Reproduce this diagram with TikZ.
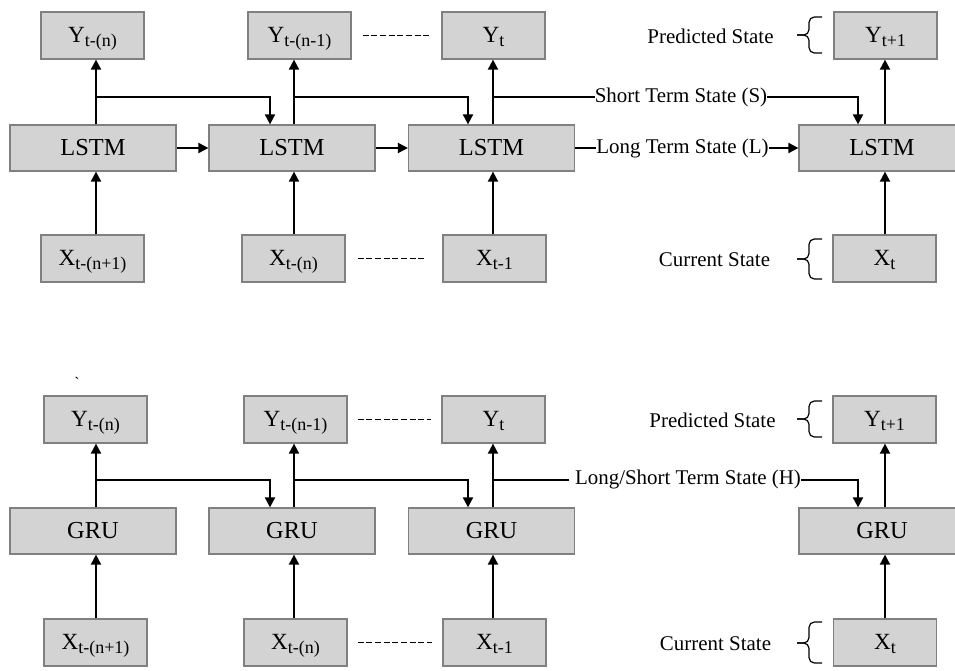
\documentclass[tikz,border=0pt]{standalone}
\usepackage{fontspec}
\setmainfont{Liberation Serif}
\usetikzlibrary{arrows.meta}
\definecolor{boxfill}{RGB}{211,211,211}
\definecolor{boxline}{RGB}{128,128,128}
\newcommand{\vsub}[2]{\raisebox{-5.4pt}[0pt][0pt]{{\fontsize{17.4}{18}\selectfont #1}\raisebox{-3pt}{\fontsize{13.5}{14}\selectfont #2}}}
\newcommand{\mybrace}[3]{%
  \draw[bracestyle] (822,#1) -- (809,#1) -- (809,#2) -- (797,#2);
  \draw[bracestyle] (797,#2) -- (809,#2) -- (809,#3) -- (822,#3);}
\begin{document}
\begin{tikzpicture}[x=0.75pt,y=-0.75pt,
  ybox/.style={draw=boxline,fill=boxfill,line width=0.9pt,minimum width=77.25pt,minimum height=35.25pt,inner sep=0pt},
  cell/.style={draw=boxline,fill=boxfill,line width=0.9pt,minimum width=124.5pt,minimum height=34.5pt,inner sep=0pt,font=\fontsize{18.3}{19}\selectfont},
  arr/.style={line width=1.4pt,-{Triangle[length=7.5pt,width=7.5pt]}},
  ln/.style={line width=1.4pt},
  lab/.style={font=\fontsize{15.7}{16}\selectfont,inner sep=0pt},
  dsh/.style={line width=0.8pt,dash pattern=on 4.5pt off 2pt},
  bracestyle/.style={line width=0.9pt,rounded corners=4pt}]
\useasboundingbox (0,0) rectangle (955,670);
\clip (0,0) rectangle (955,670);
% ================= LSTM =================
\node[ybox] (ya) at (92.5,35.5) {\vsub{Y}{t-(n)}};
\node[ybox] (yb) at (299.5,35.5) {\vsub{Y}{t-(n-1)}};
\node[ybox] (yc) at (493.5,35.5) {\vsub{Y}{t}};
\node[ybox] (yd) at (885.5,35.5) {\vsub{Y}{t+1}};
\node[cell] (la) at (93,148) {LSTM};
\node[cell] (lb) at (292,148) {LSTM};
\node[cell] (lc) at (491.5,148) {LSTM};
\node[cell] (ld) at (882,148) {LSTM};
\node[ybox] (xa) at (92.5,258.5) {\vsub{X}{t-(n+1)}};
\node[ybox] (xb) at (293.5,258.5) {\vsub{X}{t-(n)}};
\node[ybox] (xc) at (494.5,258.5) {\vsub{X}{t-1}};
\node[ybox] (xd) at (884.5,258.5) {\vsub{X}{t}};
\node[lab] (st) at (681,97) {Short Term State (S)};
\node[lab] (lt) at (682.5,148) {Long Term State (L)};
\node[lab] (ps) at (710.5,36) {Predicted State};
\node[lab] (cs) at (714.5,260) {Current State};
\coordinate (va) at (96,97);
\coordinate (vb) at (294,97);
\coordinate (vc) at (493,97);
\coordinate (vd) at (885,97);
\coordinate (da) at (270,97);
\coordinate (db) at (468,97);
\coordinate (dd) at (858,97);
\draw[arr] (la.north -| va) -- (ya.south -| va);
\draw[arr] (lb.north -| vb) -- (yb.south -| vb);
\draw[arr] (lc.north -| vc) -- (yc.south -| vc);
\draw[arr] (ld.north -| vd) -- (yd.south -| vd);
\draw[arr] (xa.north -| va) -- (la.south -| va);
\draw[arr] (xb.north -| vb) -- (lb.south -| vb);
\draw[arr] (xc.north -| vc) -- (lc.south -| vc);
\draw[arr] (xd.north -| vd) -- (ld.south -| vd);
\draw[arr] (va) -- (da) -- (lb.north -| da);
\draw[arr] (vb) -- (db) -- (lc.north -| db);
\draw[ln] (vc) -- (st.west);
\draw[arr] (st.east) -- (st.east -| dd) -- (ld.north -| dd);
\draw[arr] (la.east) -- (lb.west);
\draw[arr] (lb.east) -- (lc.west);
\draw[ln] (lc.east) -- (lt.west);
\draw[arr] (lt.east) -- (ld.west);
\draw[dsh,shorten <=8.25pt,shorten >=9pt] (yb.east) -- (yc.west);
\draw[dsh,shorten <=9pt,shorten >=13.5pt] (xb.east) -- (xc.west);
\mybrace{17}{35}{53}
\mybrace{239}{259}{279}
% ================= GRU =================
\node[font=\fontsize{12}{12}\selectfont,inner sep=0pt] (tick) at (77,383) {\textasciigrave};
\node[ybox] (gya) at (95.5,419.5) {\vsub{Y}{t-(n)}};
\node[ybox] (gyb) at (295.5,419.5) {\vsub{Y}{t-(n-1)}};
\node[ybox] (gyc) at (493.5,419.5) {\vsub{Y}{t}};
\node[ybox] (gyd) at (884.5,419.5) {\vsub{Y}{t+1}};
\node[cell] (ga) at (93,531) {GRU};
\node[cell] (gb) at (292,531) {GRU};
\node[cell] (gc) at (491.5,531) {GRU};
\node[cell] (gd) at (882,531) {GRU};
\node[ybox] (gxa) at (95.5,642.5) {\vsub{X}{t-(n+1)}};
\node[ybox] (gxb) at (295.5,642.5) {\vsub{X}{t-(n)}};
\node[ybox] (gxc) at (494.5,642.5) {\vsub{X}{t-1}};
\node[ybox] (gxd) at (885,642.5) {\vsub{X}{t}};
\node[lab] (hs) at (688,479) {Long/Short Term State (H)};
\node[lab] (gps) at (712.5,420) {Predicted State};
\node[lab] (gcs) at (715.5,644) {Current State};
\coordinate (wa) at (96,480);
\coordinate (wb) at (294,480);
\coordinate (wc) at (493,480);
\coordinate (wd) at (885,480);
\coordinate (ea) at (270,480);
\coordinate (eb) at (468,480);
\coordinate (ed) at (858,480);
\draw[arr] (ga.north -| wa) -- (gya.south -| wa);
\draw[arr] (gb.north -| wb) -- (gyb.south -| wb);
\draw[arr] (gc.north -| wc) -- (gyc.south -| wc);
\draw[arr] (gd.north -| wd) -- (gyd.south -| wd);
\draw[arr] (gxa.north -| wa) -- (ga.south -| wa);
\draw[arr] (gxb.north -| wb) -- (gb.south -| wb);
\draw[arr] (gxc.north -| wc) -- (gc.south -| wc);
\draw[arr] (gxd.north -| wd) -- (gd.south -| wd);
\draw[arr] (wa) -- (ea) -- (gb.north -| ea);
\draw[arr] (wb) -- (eb) -- (gc.north -| eb);
\draw[ln,shorten >=4.5pt] (wc) -- (wc -| hs.west);
\draw[arr] (hs.east |- ed) -- (ed) -- (gd.north -| ed);
\draw[dsh,shorten <=7.5pt,shorten >=7.5pt] (gyb.east) -- (gyc.west);
\draw[dsh,shorten <=7.5pt,shorten >=7.5pt] (gxb.east) -- (gxc.west);
\mybrace{401}{419}{437}
\mybrace{622}{643}{663}
\end{tikzpicture}
\end{document}
